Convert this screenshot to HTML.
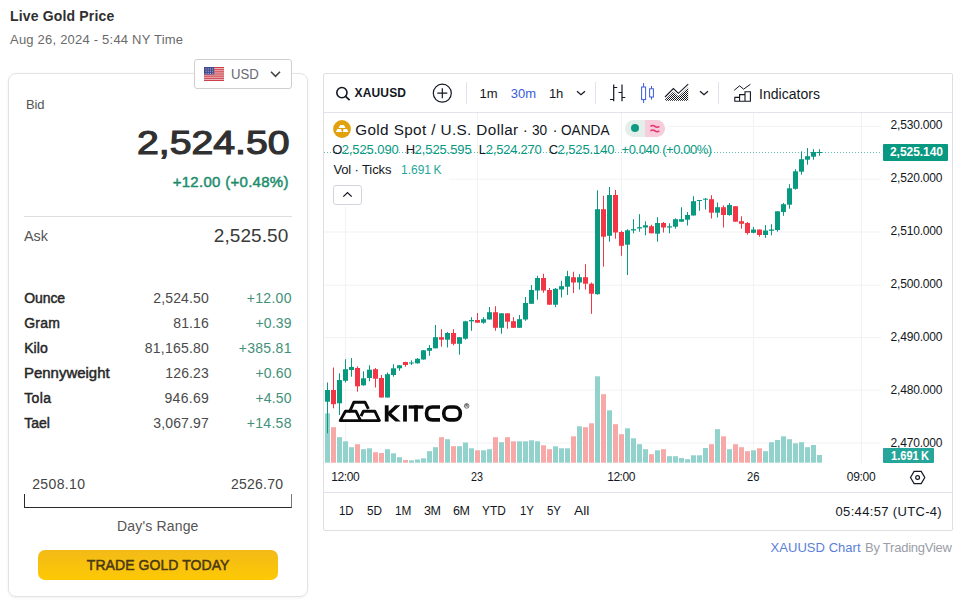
<!DOCTYPE html><html><head><meta charset="utf-8"><title>Live Gold Price</title><style>
html,body{margin:0;padding:0;background:#fff}
body{width:963px;height:600px;position:relative;overflow:hidden;font-family:"Liberation Sans",sans-serif}
.t{position:absolute;white-space:nowrap;line-height:1;margin:0;padding:0}
.b{position:absolute;box-sizing:border-box}
svg{position:absolute;left:0;top:0}

</style></head><body>
<div class="b" style="left:8px;top:73px;width:300px;height:524px;border:1px solid #e3e3e3;border-radius:8px;box-shadow:0 1px 3px rgba(0,0,0,.06)"></div>
<div class="b" style="left:323px;top:73px;width:630px;height:458px;border:1px solid #dedfe2;border-radius:2px"></div>
<div class="b" style="left:194px;top:59px;width:98px;height:30px;border:1px solid #cfcfcf;border-radius:3px;background:#fff"></div>
<div class="b" style="left:24px;top:216px;width:268px;height:1px;background:#dedede"></div>
<div class="b" style="left:24px;top:494px;width:268px;height:14px;border:1px solid #2a2a2a;border-top:none;border-right-color:#777"></div>
<div class="b" style="left:38px;top:550px;width:240px;height:30px;border-radius:7px;background:linear-gradient(#f3ba17,#fdc905)"></div>
<div class="b" style="left:324px;top:112px;width:628px;height:1px;background:#e0e3eb"></div>
<div class="b" style="left:324px;top:492px;width:628px;height:1px;background:#e0e3eb"></div>
<div class="b" style="left:466px;top:82px;width:1px;height:22px;background:#e0e3eb"></div>
<div class="b" style="left:595px;top:82px;width:1px;height:22px;background:#e0e3eb"></div>
<div class="b" style="left:718px;top:82px;width:1px;height:22px;background:#e0e3eb"></div>
<svg width="963" height="600" viewBox="0 0 963 600"><rect x="668" y="126.0" width="213" height="1" fill="#f1f2f5"/><rect x="324" y="178.7" width="557" height="1" fill="#f1f2f5"/><rect x="324" y="231.5" width="557" height="1" fill="#f1f2f5"/><rect x="324" y="284.7" width="557" height="1" fill="#f1f2f5"/><rect x="324" y="337.0" width="557" height="1" fill="#f1f2f5"/><rect x="324" y="389.7" width="557" height="1" fill="#f1f2f5"/><rect x="324" y="442.5" width="557" height="1" fill="#f1f2f5"/><rect x="345" y="206" width="1" height="257" fill="#f1f2f5"/><rect x="477" y="113" width="1" height="350" fill="#f1f2f5"/><rect x="621" y="113" width="1" height="350" fill="#f1f2f5"/><rect x="753" y="113" width="1" height="350" fill="#f1f2f5"/><rect x="861" y="113" width="1" height="350" fill="#f1f2f5"/><rect x="324" y="160" width="125" height="22" fill="#fff"/><rect x="325" y="413.3" width="5" height="49.4" fill="#92d2cc"/><rect x="331" y="427.2" width="5" height="35.5" fill="#f7a9a7"/><rect x="337" y="437.2" width="5" height="25.5" fill="#92d2cc"/><rect x="343" y="441.3" width="5" height="21.4" fill="#92d2cc"/><rect x="349" y="447.2" width="5" height="15.5" fill="#92d2cc"/><rect x="355" y="444.2" width="5" height="18.5" fill="#f7a9a7"/><rect x="361" y="449.2" width="5" height="13.5" fill="#92d2cc"/><rect x="367" y="448.3" width="5" height="14.4" fill="#92d2cc"/><rect x="373" y="452.2" width="5" height="10.5" fill="#f7a9a7"/><rect x="379" y="453.0" width="5" height="9.7" fill="#f7a9a7"/><rect x="385" y="449.2" width="5" height="13.5" fill="#92d2cc"/><rect x="391" y="453.3" width="5" height="9.4" fill="#92d2cc"/><rect x="397" y="457.2" width="5" height="5.5" fill="#92d2cc"/><rect x="403" y="460.0" width="5" height="2.7" fill="#f7a9a7"/><rect x="409" y="460.3" width="5" height="2.4" fill="#92d2cc"/><rect x="415" y="459.5" width="5" height="3.2" fill="#92d2cc"/><rect x="421" y="458.3" width="5" height="4.4" fill="#92d2cc"/><rect x="427" y="451.2" width="5" height="11.5" fill="#92d2cc"/><rect x="433" y="447.2" width="5" height="15.5" fill="#92d2cc"/><rect x="439" y="437.2" width="5" height="25.5" fill="#f7a9a7"/><rect x="445" y="439.2" width="5" height="23.5" fill="#92d2cc"/><rect x="451" y="446.2" width="5" height="16.5" fill="#f7a9a7"/><rect x="457" y="446.2" width="5" height="16.5" fill="#92d2cc"/><rect x="463" y="442.5" width="5" height="20.2" fill="#92d2cc"/><rect x="469" y="448.3" width="5" height="14.4" fill="#92d2cc"/><rect x="475" y="450.3" width="5" height="12.4" fill="#f7a9a7"/><rect x="481" y="450.3" width="5" height="12.4" fill="#92d2cc"/><rect x="487" y="449.2" width="5" height="13.5" fill="#92d2cc"/><rect x="493" y="437.2" width="5" height="25.5" fill="#f7a9a7"/><rect x="499" y="442.2" width="5" height="20.5" fill="#92d2cc"/><rect x="505" y="437.2" width="5" height="25.5" fill="#f7a9a7"/><rect x="511" y="441.3" width="5" height="21.4" fill="#f7a9a7"/><rect x="517" y="441.3" width="5" height="21.4" fill="#92d2cc"/><rect x="523" y="441.3" width="5" height="21.4" fill="#92d2cc"/><rect x="529" y="440.3" width="5" height="22.4" fill="#92d2cc"/><rect x="535" y="441.3" width="5" height="21.4" fill="#92d2cc"/><rect x="541" y="445.3" width="5" height="17.4" fill="#f7a9a7"/><rect x="547" y="449.2" width="5" height="13.5" fill="#f7a9a7"/><rect x="553" y="446.3" width="5" height="16.4" fill="#92d2cc"/><rect x="559" y="448.3" width="5" height="14.4" fill="#92d2cc"/><rect x="565" y="448.3" width="5" height="14.4" fill="#92d2cc"/><rect x="571" y="436.3" width="5" height="26.4" fill="#f7a9a7"/><rect x="577" y="426.3" width="5" height="36.4" fill="#92d2cc"/><rect x="583" y="427.2" width="5" height="35.5" fill="#f7a9a7"/><rect x="589" y="423.3" width="5" height="39.4" fill="#f7a9a7"/><rect x="595" y="376.3" width="5" height="86.4" fill="#92d2cc"/><rect x="601" y="394.2" width="5" height="68.5" fill="#f7a9a7"/><rect x="607" y="410.3" width="5" height="52.4" fill="#92d2cc"/><rect x="613" y="424.2" width="5" height="38.5" fill="#f7a9a7"/><rect x="619" y="434.2" width="5" height="28.5" fill="#f7a9a7"/><rect x="625" y="428.3" width="5" height="34.4" fill="#92d2cc"/><rect x="631" y="438.3" width="5" height="24.4" fill="#92d2cc"/><rect x="637" y="444.2" width="5" height="18.5" fill="#92d2cc"/><rect x="643" y="449.2" width="5" height="13.5" fill="#92d2cc"/><rect x="649" y="454.2" width="5" height="8.5" fill="#f7a9a7"/><rect x="655" y="450.3" width="5" height="12.4" fill="#92d2cc"/><rect x="661" y="449.2" width="5" height="13.5" fill="#f7a9a7"/><rect x="667" y="456.2" width="5" height="6.5" fill="#92d2cc"/><rect x="673" y="456.2" width="5" height="6.5" fill="#92d2cc"/><rect x="679" y="458.0" width="5" height="4.7" fill="#92d2cc"/><rect x="685" y="459.2" width="5" height="3.5" fill="#92d2cc"/><rect x="691" y="455.3" width="5" height="7.4" fill="#92d2cc"/><rect x="697" y="455.3" width="5" height="7.4" fill="#92d2cc"/><rect x="703" y="448.0" width="5" height="14.7" fill="#92d2cc"/><rect x="709" y="444.2" width="5" height="18.5" fill="#f7a9a7"/><rect x="715" y="429.2" width="5" height="33.5" fill="#92d2cc"/><rect x="721" y="436.3" width="5" height="26.4" fill="#f7a9a7"/><rect x="727" y="449.2" width="5" height="13.5" fill="#92d2cc"/><rect x="733" y="444.2" width="5" height="18.5" fill="#f7a9a7"/><rect x="739" y="447.2" width="5" height="15.5" fill="#f7a9a7"/><rect x="745" y="451.2" width="5" height="11.5" fill="#f7a9a7"/><rect x="751" y="450.3" width="5" height="12.4" fill="#92d2cc"/><rect x="757" y="448.3" width="5" height="14.4" fill="#f7a9a7"/><rect x="763" y="451.2" width="5" height="11.5" fill="#92d2cc"/><rect x="769" y="442.2" width="5" height="20.5" fill="#92d2cc"/><rect x="775" y="440.0" width="5" height="22.7" fill="#92d2cc"/><rect x="781" y="436.3" width="5" height="26.4" fill="#92d2cc"/><rect x="787" y="439.2" width="5" height="23.5" fill="#92d2cc"/><rect x="793" y="443.3" width="5" height="19.4" fill="#92d2cc"/><rect x="799" y="442.2" width="5" height="20.5" fill="#92d2cc"/><rect x="805" y="447.2" width="5" height="15.5" fill="#92d2cc"/><rect x="811" y="445.0" width="5" height="17.7" fill="#92d2cc"/><rect x="817" y="455.0" width="5" height="7.7" fill="#92d2cc"/><line x1="324" y1="152.5" x2="880" y2="152.5" stroke="#089981" stroke-width="1" stroke-dasharray="1 2" opacity=".62"/><rect x="327" y="382.5" width="1" height="50.8" fill="#089981"/><rect x="325" y="390.0" width="5" height="11.7" fill="#089981"/><rect x="333" y="367.5" width="1" height="40.8" fill="#f23645"/><rect x="331" y="390.0" width="5" height="14.2" fill="#f23645"/><rect x="339" y="373.3" width="1" height="41.7" fill="#089981"/><rect x="337" y="380.0" width="5" height="23.3" fill="#089981"/><rect x="345" y="359.2" width="1" height="23.3" fill="#089981"/><rect x="343" y="369.2" width="5" height="11.6" fill="#089981"/><rect x="351" y="358.0" width="1" height="18.7" fill="#089981"/><rect x="349" y="367.0" width="5" height="3.0" fill="#089981"/><rect x="357" y="366.3" width="1" height="25.4" fill="#f23645"/><rect x="355" y="368.0" width="5" height="18.3" fill="#f23645"/><rect x="363" y="371.3" width="1" height="14.5" fill="#089981"/><rect x="361" y="378.3" width="5" height="7.0" fill="#089981"/><rect x="369" y="365.3" width="1" height="16.0" fill="#089981"/><rect x="367" y="369.7" width="5" height="8.3" fill="#089981"/><rect x="375" y="368.0" width="1" height="19.5" fill="#f23645"/><rect x="373" y="369.2" width="5" height="9.5" fill="#f23645"/><rect x="381" y="375.0" width="1" height="22.5" fill="#f23645"/><rect x="379" y="378.0" width="5" height="19.5" fill="#f23645"/><rect x="387" y="372.5" width="1" height="25.0" fill="#089981"/><rect x="385" y="374.2" width="5" height="23.3" fill="#089981"/><rect x="393" y="364.2" width="1" height="12.5" fill="#089981"/><rect x="391" y="368.3" width="5" height="6.7" fill="#089981"/><rect x="399" y="365.0" width="1" height="5.8" fill="#089981"/><rect x="397" y="365.3" width="5" height="3.0" fill="#089981"/><rect x="405" y="361.7" width="1" height="5.0" fill="#f23645"/><rect x="403" y="362.0" width="5" height="3.0" fill="#f23645"/><rect x="411" y="360.3" width="1" height="4.7" fill="#089981"/><rect x="409" y="362.5" width="5" height="1.0" fill="#089981"/><rect x="417" y="358.0" width="1" height="5.7" fill="#089981"/><rect x="415" y="358.8" width="5" height="4.5" fill="#089981"/><rect x="423" y="350.0" width="1" height="9.7" fill="#089981"/><rect x="421" y="350.3" width="5" height="9.2" fill="#089981"/><rect x="429" y="345.0" width="1" height="10.8" fill="#089981"/><rect x="427" y="348.0" width="5" height="2.8" fill="#089981"/><rect x="435" y="325.0" width="1" height="23.3" fill="#089981"/><rect x="433" y="337.2" width="5" height="11.1" fill="#089981"/><rect x="441" y="329.2" width="1" height="17.5" fill="#f23645"/><rect x="439" y="337.2" width="5" height="2.5" fill="#f23645"/><rect x="447" y="332.0" width="1" height="15.5" fill="#089981"/><rect x="445" y="333.0" width="5" height="6.7" fill="#089981"/><rect x="453" y="329.2" width="1" height="16.1" fill="#f23645"/><rect x="451" y="333.0" width="5" height="10.8" fill="#f23645"/><rect x="459" y="337.2" width="1" height="17.5" fill="#089981"/><rect x="457" y="337.2" width="5" height="6.6" fill="#089981"/><rect x="465" y="320.8" width="1" height="18.9" fill="#089981"/><rect x="463" y="321.3" width="5" height="17.4" fill="#089981"/><rect x="471" y="317.2" width="1" height="13.6" fill="#089981"/><rect x="469" y="320.0" width="5" height="1.3" fill="#089981"/><rect x="477" y="313.0" width="1" height="9.7" fill="#f23645"/><rect x="475" y="320.0" width="5" height="2.7" fill="#f23645"/><rect x="483" y="317.2" width="1" height="6.5" fill="#089981"/><rect x="481" y="319.2" width="5" height="3.5" fill="#089981"/><rect x="489" y="307.0" width="1" height="12.5" fill="#089981"/><rect x="487" y="312.2" width="5" height="7.3" fill="#089981"/><rect x="495" y="306.2" width="1" height="24.6" fill="#f23645"/><rect x="493" y="312.2" width="5" height="15.6" fill="#f23645"/><rect x="501" y="313.3" width="1" height="20.4" fill="#089981"/><rect x="499" y="313.3" width="5" height="14.5" fill="#089981"/><rect x="507" y="313.3" width="1" height="15.4" fill="#f23645"/><rect x="505" y="313.3" width="5" height="8.4" fill="#f23645"/><rect x="513" y="317.2" width="1" height="10.6" fill="#f23645"/><rect x="511" y="321.2" width="5" height="6.6" fill="#f23645"/><rect x="519" y="315.0" width="1" height="12.8" fill="#089981"/><rect x="517" y="319.2" width="5" height="8.6" fill="#089981"/><rect x="525" y="297.0" width="1" height="23.8" fill="#089981"/><rect x="523" y="303.0" width="5" height="16.5" fill="#089981"/><rect x="531" y="285.0" width="1" height="18.8" fill="#089981"/><rect x="529" y="290.0" width="5" height="13.8" fill="#089981"/><rect x="537" y="275.8" width="1" height="23.9" fill="#089981"/><rect x="535" y="278.0" width="5" height="12.5" fill="#089981"/><rect x="543" y="273.7" width="1" height="19.1" fill="#f23645"/><rect x="541" y="278.0" width="5" height="12.5" fill="#f23645"/><rect x="549" y="288.0" width="1" height="16.7" fill="#f23645"/><rect x="547" y="290.0" width="5" height="14.7" fill="#f23645"/><rect x="555" y="288.0" width="1" height="19.0" fill="#089981"/><rect x="553" y="288.8" width="5" height="15.9" fill="#089981"/><rect x="561" y="280.8" width="1" height="16.7" fill="#089981"/><rect x="559" y="286.2" width="5" height="3.3" fill="#089981"/><rect x="567" y="270.8" width="1" height="24.2" fill="#089981"/><rect x="565" y="276.2" width="5" height="10.5" fill="#089981"/><rect x="573" y="271.7" width="1" height="21.3" fill="#f23645"/><rect x="571" y="277.2" width="5" height="5.3" fill="#f23645"/><rect x="579" y="274.2" width="1" height="15.3" fill="#089981"/><rect x="577" y="277.2" width="5" height="5.3" fill="#089981"/><rect x="585" y="264.2" width="1" height="25.3" fill="#f23645"/><rect x="583" y="277.2" width="5" height="6.5" fill="#f23645"/><rect x="591" y="282.5" width="1" height="31.3" fill="#f23645"/><rect x="589" y="283.7" width="5" height="10.0" fill="#f23645"/><rect x="597" y="190.3" width="1" height="104.4" fill="#089981"/><rect x="595" y="209.2" width="5" height="85.0" fill="#089981"/><rect x="603" y="195.8" width="1" height="70.9" fill="#f23645"/><rect x="601" y="209.2" width="5" height="27.5" fill="#f23645"/><rect x="609" y="187.0" width="1" height="54.7" fill="#089981"/><rect x="607" y="195.0" width="5" height="40.8" fill="#089981"/><rect x="615" y="190.0" width="1" height="48.7" fill="#f23645"/><rect x="613" y="195.0" width="5" height="37.5" fill="#f23645"/><rect x="621" y="230.8" width="1" height="25.0" fill="#f23645"/><rect x="619" y="232.0" width="5" height="13.8" fill="#f23645"/><rect x="627" y="229.2" width="1" height="45.8" fill="#089981"/><rect x="625" y="230.3" width="5" height="14.4" fill="#089981"/><rect x="633" y="219.2" width="1" height="14.1" fill="#089981"/><rect x="631" y="229.2" width="5" height="1.3" fill="#089981"/><rect x="639" y="214.2" width="1" height="17.5" fill="#089981"/><rect x="637" y="227.2" width="5" height="1.3" fill="#089981"/><rect x="645" y="221.3" width="1" height="14.0" fill="#089981"/><rect x="643" y="225.3" width="5" height="2.2" fill="#089981"/><rect x="651" y="224.7" width="1" height="8.6" fill="#f23645"/><rect x="649" y="226.2" width="5" height="7.1" fill="#f23645"/><rect x="657" y="217.2" width="1" height="24.5" fill="#089981"/><rect x="655" y="223.0" width="5" height="10.7" fill="#089981"/><rect x="663" y="222.0" width="1" height="10.5" fill="#f23645"/><rect x="661" y="223.0" width="5" height="4.5" fill="#f23645"/><rect x="669" y="223.3" width="1" height="10.0" fill="#089981"/><rect x="667" y="226.3" width="5" height="1.2" fill="#089981"/><rect x="675" y="218.3" width="1" height="10.4" fill="#089981"/><rect x="673" y="219.2" width="5" height="7.5" fill="#089981"/><rect x="681" y="207.2" width="1" height="14.5" fill="#089981"/><rect x="679" y="219.2" width="5" height="2.5" fill="#089981"/><rect x="687" y="212.0" width="1" height="13.5" fill="#089981"/><rect x="685" y="215.0" width="5" height="4.7" fill="#089981"/><rect x="693" y="196.2" width="1" height="19.3" fill="#089981"/><rect x="691" y="201.2" width="5" height="14.3" fill="#089981"/><rect x="699" y="200.0" width="1" height="10.8" fill="#089981"/><rect x="697" y="200.0" width="5" height="1.0" fill="#089981"/><rect x="705" y="198.0" width="1" height="11.5" fill="#089981"/><rect x="703" y="198.7" width="5" height="1.0" fill="#089981"/><rect x="711" y="195.2" width="1" height="23.3" fill="#f23645"/><rect x="709" y="199.2" width="5" height="13.5" fill="#f23645"/><rect x="717" y="202.5" width="1" height="15.0" fill="#089981"/><rect x="715" y="207.2" width="5" height="5.5" fill="#089981"/><rect x="723" y="205.3" width="1" height="22.2" fill="#f23645"/><rect x="721" y="207.2" width="5" height="7.8" fill="#f23645"/><rect x="729" y="203.0" width="1" height="12.8" fill="#089981"/><rect x="727" y="205.0" width="5" height="10.0" fill="#089981"/><rect x="735" y="206.2" width="1" height="15.5" fill="#f23645"/><rect x="733" y="206.2" width="5" height="15.5" fill="#f23645"/><rect x="741" y="216.3" width="1" height="12.4" fill="#f23645"/><rect x="739" y="221.2" width="5" height="2.6" fill="#f23645"/><rect x="747" y="222.0" width="1" height="12.7" fill="#f23645"/><rect x="745" y="223.0" width="5" height="10.0" fill="#f23645"/><rect x="753" y="227.0" width="1" height="6.3" fill="#089981"/><rect x="751" y="229.5" width="5" height="3.3" fill="#089981"/><rect x="759" y="229.5" width="1" height="7.2" fill="#f23645"/><rect x="757" y="229.5" width="5" height="5.5" fill="#f23645"/><rect x="765" y="225.0" width="1" height="12.8" fill="#089981"/><rect x="763" y="230.5" width="5" height="4.5" fill="#089981"/><rect x="771" y="224.2" width="1" height="11.1" fill="#089981"/><rect x="769" y="229.5" width="5" height="1.3" fill="#089981"/><rect x="777" y="211.3" width="1" height="20.4" fill="#089981"/><rect x="775" y="211.3" width="5" height="18.7" fill="#089981"/><rect x="783" y="203.0" width="1" height="12.8" fill="#089981"/><rect x="781" y="204.2" width="5" height="7.8" fill="#089981"/><rect x="789" y="184.2" width="1" height="24.5" fill="#089981"/><rect x="787" y="188.3" width="5" height="16.4" fill="#089981"/><rect x="795" y="169.2" width="1" height="20.5" fill="#089981"/><rect x="793" y="171.3" width="5" height="17.5" fill="#089981"/><rect x="801" y="151.3" width="1" height="23.4" fill="#089981"/><rect x="799" y="159.2" width="5" height="12.5" fill="#089981"/><rect x="807" y="148.0" width="1" height="16.7" fill="#089981"/><rect x="805" y="156.2" width="5" height="3.5" fill="#089981"/><rect x="813" y="149.2" width="1" height="10.5" fill="#089981"/><rect x="811" y="152.0" width="5" height="4.7" fill="#089981"/><rect x="819" y="149.2" width="1" height="6.6" fill="#089981"/><rect x="817" y="152.0" width="5" height="1.0" fill="#089981"/></svg>
<div class="b" style="left:625px;top:120px;width:40px;height:17px;border-radius:9px;overflow:hidden;background:#e4efec"><div class="b" style="left:20px;top:0;width:20px;height:17px;background:#f8cddb"></div></div>
<div class="b" style="left:631px;top:124px;width:8px;height:8px;border-radius:4px;background:#0e9b83"></div>
<div class="b" style="left:333px;top:184.5px;width:28.5px;height:20px;border:1px solid #d1d4dc;border-radius:3px;background:#fff"></div>
<div class="b" style="left:883px;top:144px;width:65px;height:17px;background:#089981;border-radius:1px;z-index:2"></div>
<div class="b" style="left:883px;top:447.5px;width:51px;height:15.5px;background:#26a69a;border-radius:1px;z-index:2"></div>
<svg width="963" height="600" viewBox="0 0 963 600" fill="none"><g><rect x="204" y="67" width="20" height="14" fill="#f3e4e6"/><rect x="204" y="67.00" width="20" height="1.3" fill="#cf3f4a"/><rect x="204" y="69.12" width="20" height="1.3" fill="#cf3f4a"/><rect x="204" y="71.23" width="20" height="1.3" fill="#cf3f4a"/><rect x="204" y="73.35" width="20" height="1.3" fill="#cf3f4a"/><rect x="204" y="75.47" width="20" height="1.3" fill="#cf3f4a"/><rect x="204" y="77.59" width="20" height="1.3" fill="#cf3f4a"/><rect x="204" y="79.70" width="20" height="1.3" fill="#cf3f4a"/><rect x="204" y="67" width="10.2" height="7.5" fill="#444a8e"/><rect x="205.6" y="68.5" width="1" height="1" fill="#b9bcd9"/><rect x="207.8" y="68.5" width="1" height="1" fill="#b9bcd9"/><rect x="210.0" y="68.5" width="1" height="1" fill="#b9bcd9"/><rect x="212.2" y="68.5" width="1" height="1" fill="#b9bcd9"/><rect x="205.6" y="70.7" width="1" height="1" fill="#b9bcd9"/><rect x="207.8" y="70.7" width="1" height="1" fill="#b9bcd9"/><rect x="210.0" y="70.7" width="1" height="1" fill="#b9bcd9"/><rect x="212.2" y="70.7" width="1" height="1" fill="#b9bcd9"/><rect x="205.6" y="72.9" width="1" height="1" fill="#b9bcd9"/><rect x="207.8" y="72.9" width="1" height="1" fill="#b9bcd9"/><rect x="210.0" y="72.9" width="1" height="1" fill="#b9bcd9"/><rect x="212.2" y="72.9" width="1" height="1" fill="#b9bcd9"/></g><path d="M271 71.8l4.5 4.5 4.5-4.5" stroke="#444" stroke-width="1.6"/><circle cx="341.9" cy="92.6" r="5.1" stroke="#131722" stroke-width="1.6"/><path d="M345.6 96.4l4 3.8" stroke="#131722" stroke-width="1.7"/><circle cx="442.3" cy="93.2" r="9" stroke="#131722" stroke-width="1.2"/><path d="M437.3 93.2h10M442.3 88.2v10" stroke="#131722" stroke-width="1.2"/><path d="M577 91.2l4 3.6 4-3.6" stroke="#131722" stroke-width="1.2"/><path d="M613.7 84.5v16.7M610 99.5h3.7M613.7 87.5h3.5M622 84.5v16.7M618.5 92.5h3.5M622 97.5h3.3" stroke="#131722" stroke-width="1.2"/><path d="M643.6 83v4M643.6 99.6v3.4M651.5 86v2.8M651.5 97v2.6" stroke="#3a5bd9" stroke-width="1"/><rect x="641.6" y="87" width="4" height="12.6" stroke="#3a5bd9" stroke-width="1"/><rect x="649.6" y="88.8" width="3.8" height="8.2" stroke="#3a5bd9" stroke-width="1"/><defs><pattern id="hp" width="2" height="2" patternUnits="userSpaceOnUse"><rect width="1" height="1" fill="#131722"/><rect x="1" y="1" width="1" height="1" fill="#131722"/></pattern></defs><path d="M665 100.8v-1.2L673.4 91.4l5 4.8L688.2 87.2v13.6z" fill="url(#hp)"/><path d="M665 97L673.4 88.5l5 4.8L688.2 84.2" stroke="#131722" stroke-width="1.1"/><path d="M700 91.2l4 3.6 4-3.6" stroke="#131722" stroke-width="1.2"/><path d="M734.2 90.3l5.4-4.5 4 3.4 6.8-4.9" stroke="#131722" stroke-width="1"/><path d="M734.8 101.3v-3.9h4.8v3.9M739.6 97.4v-2.8h5.4v6.7M745 94.6v-2.9h5.4v9.6M734.3 101.3h16.6" stroke="#131722" stroke-width="1.1"/><circle cx="342" cy="129" r="8.9" fill="#e0a10d"/><path d="M340.2 124.9H344L345.5 127.9H338.6zM337.3 129H341L342 132.1H335.8zM343.5 129H347L348.4 132.1H342.8z" fill="#fff"/><path d="M650.5 126.3q2.2-1.8 4.4 0t4.4 0M650.5 130.8q2.2-1.8 4.4 0t4.4 0" stroke="#e8326d" stroke-width="1.5"/><path d="M343.3 196.6l4.2-4 4.2 4" stroke="#131722" stroke-width="1.3"/><path d="M914.1 471.4h7.1l3.6 6.1-3.6 6.1h-7.1l-3.6-6.1z" stroke="#131722" stroke-width="1.2"/><circle cx="917.6" cy="477.5" r="1.9" stroke="#131722" stroke-width="1.2"/><g stroke="#0a0a0a" stroke-width="2.9" stroke-linejoin="round" stroke-linecap="butt" fill="none"><path d="M349.9 411.2H345.4L340.2 420.6H379.4L374.8 411.2H363.4L361 416.2"/><path d="M349 411.2H355.9L360.6 420.6"/><path d="M349.6 411.9L353.9 402.2H365L368.4 408.9"/></g><g fill="#0a0a0a"><rect x="384.8" y="405.3" width="3.8" height="16.3"/><path d="M388 411.9L395.2 405.3H400.4L391.4 413.4L400.7 421.6H395.4L388 415.1z"/><rect x="403.1" y="405.3" width="3.8" height="16.3"/><rect x="408.6" y="405.3" width="14.8" height="3.4"/><rect x="414.1" y="405.3" width="3.8" height="16.3"/></g><g stroke="#0a0a0a" stroke-width="3.6" fill="none"><path d="M440 407H432.6Q426.6 407 426.6 412.6V414.3Q426.6 419.9 432.6 419.9H440"/><rect x="443.8" y="407" width="16.5" height="12.9" rx="5.8" ry="5.8"/></g><circle cx="466.7" cy="405.9" r="2.3" stroke="#333" stroke-width=".7" fill="none"/><text x="465.3" y="407.2" font-family="Liberation Sans, sans-serif" font-size="3.8" font-weight="700" fill="#333">R</text></svg>
<span class="t" id="t0" style="left:10.00px;top:8.95px;font-size:14px;color:#2f2f2f;font-weight:700;letter-spacing:0.162px;">Live Gold Price</span>
<span class="t" id="t1" style="left:10.00px;top:33.00px;font-size:13px;color:#6a6a6a;letter-spacing:0.215px;">Aug 26, 2024 - 5:44 NY Time</span>
<span class="t" id="t2" style="left:231.20px;top:66.85px;font-size:14px;color:#666a74;transform:scaleX(0.9404);transform-origin:0 0;">USD</span>
<span class="t" id="t3" style="left:26.00px;top:97.80px;font-size:13px;color:#555;letter-spacing:-0.148px;">Bid</span>
<span class="t" id="t4" style="left:137.00px;top:125.42px;font-size:34px;color:#303030;transform:scaleX(1.1529);transform-origin:0 0;-webkit-text-stroke:1.2px #303030;">2,524.50</span>
<span class="t" id="t5" style="left:172.70px;top:173.55px;font-size:15px;color:#1e8e6e;letter-spacing:0.289px;-webkit-text-stroke:0.5px #1e8e6e;">+12.00 (+0.48%)</span>
<span class="t" id="t6" style="left:24.00px;top:228.30px;font-size:15px;color:#555;transform:scaleX(0.9594);transform-origin:0 0;">Ask</span>
<span class="t" id="t7" style="left:213.75px;top:226.12px;font-size:19px;color:#3a3a3a;letter-spacing:0.076px;">2,525.50</span>
<span class="t" id="t8" style="left:24.20px;top:291.35px;font-size:14px;color:#262626;letter-spacing:-0.088px;-webkit-text-stroke:0.45px #262626;">Ounce</span>
<span class="t" id="t9" style="left:153.30px;top:291.35px;font-size:14px;color:#4a4a4a;letter-spacing:0.143px;">2,524.50</span>
<span class="t" id="t10" style="left:246.70px;top:291.35px;font-size:14px;color:#43907a;letter-spacing:0.316px;">+12.00</span>
<span class="t" id="t11" style="left:24.20px;top:316.25px;font-size:14px;color:#262626;letter-spacing:0.200px;-webkit-text-stroke:0.45px #262626;">Gram</span>
<span class="t" id="t12" style="left:173.30px;top:316.25px;font-size:14px;color:#4a4a4a;letter-spacing:0.113px;">81.16</span>
<span class="t" id="t13" style="left:255.50px;top:316.25px;font-size:14px;color:#43907a;letter-spacing:0.141px;">+0.39</span>
<span class="t" id="t14" style="left:24.20px;top:341.15px;font-size:14px;color:#262626;letter-spacing:0.080px;-webkit-text-stroke:0.45px #262626;">Kilo</span>
<span class="t" id="t15" style="left:144.80px;top:341.15px;font-size:14px;color:#4a4a4a;letter-spacing:0.213px;">81,165.80</span>
<span class="t" id="t16" style="left:238.70px;top:341.15px;font-size:14px;color:#43907a;letter-spacing:0.300px;">+385.81</span>
<span class="t" id="t17" style="left:24.20px;top:366.05px;font-size:14px;color:#262626;transform:scaleX(1.0677);transform-origin:0 0;-webkit-text-stroke:0.45px #262626;">Pennyweight</span>
<span class="t" id="t18" style="left:165.30px;top:366.05px;font-size:14px;color:#4a4a4a;letter-spacing:0.134px;">126.23</span>
<span class="t" id="t19" style="left:255.50px;top:366.05px;font-size:14px;color:#43907a;letter-spacing:0.141px;">+0.60</span>
<span class="t" id="t20" style="left:24.20px;top:390.95px;font-size:14px;color:#262626;letter-spacing:0.371px;-webkit-text-stroke:0.45px #262626;">Tola</span>
<span class="t" id="t21" style="left:164.50px;top:390.95px;font-size:14px;color:#4a4a4a;letter-spacing:0.294px;">946.69</span>
<span class="t" id="t22" style="left:255.50px;top:390.95px;font-size:14px;color:#43907a;letter-spacing:0.141px;">+4.50</span>
<span class="t" id="t23" style="left:24.20px;top:415.75px;font-size:14px;color:#262626;letter-spacing:-0.029px;-webkit-text-stroke:0.45px #262626;">Tael</span>
<span class="t" id="t24" style="left:153.30px;top:415.75px;font-size:14px;color:#4a4a4a;letter-spacing:0.143px;">3,067.97</span>
<span class="t" id="t25" style="left:246.70px;top:415.75px;font-size:14px;color:#43907a;letter-spacing:0.316px;">+14.58</span>
<span class="t" id="t26" style="left:32.20px;top:477.35px;font-size:14px;color:#444;letter-spacing:0.365px;">2508.10</span>
<span class="t" id="t27" style="left:231.00px;top:477.35px;font-size:14px;color:#444;letter-spacing:0.232px;">2526.70</span>
<span class="t" id="t28" style="left:117.00px;top:518.65px;font-size:14px;color:#555;letter-spacing:0.168px;">Day's Range</span>
<span class="t" id="t29" style="left:86.80px;top:557.85px;font-size:14px;color:#4a3812;letter-spacing:0.067px;-webkit-text-stroke:0.5px #4a3812;">TRADE GOLD TODAY</span>
<span class="t" id="t30" style="left:354.60px;top:87.44px;font-size:12px;color:#131722;font-weight:700;letter-spacing:0.146px;">XAUUSD</span>
<span class="t" id="t31" style="left:479.60px;top:87.00px;font-size:13px;color:#131722;letter-spacing:-0.062px;">1m</span>
<span class="t" id="t32" style="left:510.80px;top:87.00px;font-size:13px;color:#3a5bd9;letter-spacing:-0.048px;">30m</span>
<span class="t" id="t33" style="left:549.00px;top:87.00px;font-size:13px;color:#131722;letter-spacing:-0.269px;">1h</span>
<span class="t" id="t34" style="left:759.00px;top:86.65px;font-size:14px;color:#131722;letter-spacing:0.033px;">Indicators</span>
<span class="t" id="t35" style="left:355.20px;top:122.25px;font-size:15.3px;color:#131722;letter-spacing:0.376px;">Gold Spot / U.S. Dollar</span>
<span class="t" id="t36" style="left:522.80px;top:122.25px;font-size:15.3px;color:#131722;">·</span>
<span class="t" id="t37" style="left:532.40px;top:122.25px;font-size:15.3px;color:#131722;transform:scaleX(0.8933);transform-origin:0 0;">30</span>
<span class="t" id="t38" style="left:552.50px;top:122.25px;font-size:15.3px;color:#131722;">·</span>
<span class="t" id="t39" style="left:560.80px;top:122.25px;font-size:15.3px;color:#131722;transform:scaleX(0.8914);transform-origin:0 0;">OANDA</span>
<span class="t" id="t40" style="left:332.30px;top:142.60px;font-size:13px;color:#131722;">O</span>
<span class="t" id="t41" style="left:341.70px;top:142.60px;font-size:13px;color:#089981;letter-spacing:-0.093px;">2,525.090</span>
<span class="t" id="t42" style="left:405.70px;top:142.60px;font-size:13px;color:#131722;">H</span>
<span class="t" id="t43" style="left:414.60px;top:142.60px;font-size:13px;color:#089981;letter-spacing:-0.093px;">2,525.595</span>
<span class="t" id="t44" style="left:478.80px;top:142.60px;font-size:13px;color:#131722;">L</span>
<span class="t" id="t45" style="left:485.80px;top:142.60px;font-size:13px;color:#089981;letter-spacing:-0.230px;">2,524.270</span>
<span class="t" id="t46" style="left:548.70px;top:142.60px;font-size:13px;color:#131722;">C</span>
<span class="t" id="t47" style="left:557.60px;top:142.60px;font-size:13px;color:#089981;letter-spacing:-0.118px;">2,525.140</span>
<span class="t" id="t48" style="left:621.60px;top:142.60px;font-size:13px;color:#089981;letter-spacing:-0.447px;">+0.040 (+0.00%)</span>
<span class="t" id="t49" style="left:333.40px;top:163.30px;font-size:13px;color:#131722;letter-spacing:-0.125px;">Vol · Ticks</span>
<span class="t" id="t50" style="left:401.00px;top:163.30px;font-size:13px;color:#26a69a;transform:scaleX(0.9221);transform-origin:0 0;">1.691 K</span>
<span class="t" id="t51" style="left:890.50px;top:118.64px;font-size:12px;color:#131722;letter-spacing:-0.174px;">2,530.000</span>
<span class="t" id="t52" style="left:890.50px;top:171.64px;font-size:12px;color:#131722;letter-spacing:-0.174px;">2,520.000</span>
<span class="t" id="t53" style="left:890.50px;top:224.64px;font-size:12px;color:#131722;letter-spacing:-0.174px;">2,510.000</span>
<span class="t" id="t54" style="left:890.50px;top:277.64px;font-size:12px;color:#131722;letter-spacing:-0.174px;">2,500.000</span>
<span class="t" id="t55" style="left:890.50px;top:330.64px;font-size:12px;color:#131722;letter-spacing:-0.174px;">2,490.000</span>
<span class="t" id="t56" style="left:890.50px;top:383.64px;font-size:12px;color:#131722;letter-spacing:-0.174px;">2,480.000</span>
<span class="t" id="t57" style="left:890.50px;top:436.74px;font-size:12px;color:#131722;letter-spacing:-0.174px;">2,470.000</span>
<span class="t" id="t58" style="left:331.35px;top:470.64px;font-size:12px;color:#131722;letter-spacing:-0.433px;">12:00</span>
<span class="t" id="t59" style="left:471.20px;top:470.64px;font-size:12px;color:#131722;transform:scaleX(0.8982);transform-origin:0 0;">23</span>
<span class="t" id="t60" style="left:607.15px;top:470.64px;font-size:12px;color:#131722;letter-spacing:-0.433px;">12:00</span>
<span class="t" id="t61" style="left:746.85px;top:470.64px;font-size:12px;color:#131722;transform:scaleX(0.9357);transform-origin:0 0;">26</span>
<span class="t" id="t62" style="left:846.80px;top:470.64px;font-size:12px;color:#131722;letter-spacing:-0.308px;">09:00</span>
<span class="t" id="t63" style="left:339.00px;top:505.02px;font-size:12.5px;color:#131722;transform:scaleX(0.9134);transform-origin:0 0;">1D</span>
<span class="t" id="t64" style="left:367.00px;top:505.02px;font-size:12.5px;color:#131722;transform:scaleX(0.9384);transform-origin:0 0;">5D</span>
<span class="t" id="t65" style="left:395.30px;top:505.02px;font-size:12.5px;color:#131722;transform:scaleX(0.9439);transform-origin:0 0;">1M</span>
<span class="t" id="t66" style="left:424.00px;top:505.02px;font-size:12.5px;color:#131722;letter-spacing:-0.375px;">3M</span>
<span class="t" id="t67" style="left:453.00px;top:505.02px;font-size:12.5px;color:#131722;letter-spacing:-0.375px;">6M</span>
<span class="t" id="t68" style="left:482.30px;top:505.02px;font-size:12.5px;color:#131722;transform:scaleX(0.9480);transform-origin:0 0;">YTD</span>
<span class="t" id="t69" style="left:519.60px;top:505.02px;font-size:12.5px;color:#131722;transform:scaleX(0.9087);transform-origin:0 0;">1Y</span>
<span class="t" id="t70" style="left:547.00px;top:505.02px;font-size:12.5px;color:#131722;transform:scaleX(0.9152);transform-origin:0 0;">5Y</span>
<span class="t" id="t71" style="left:573.60px;top:505.02px;font-size:12.5px;color:#131722;transform:scaleX(1.1074);transform-origin:0 0;">All</span>
<span class="t" id="t72" style="left:835.50px;top:505.00px;font-size:13px;color:#131722;letter-spacing:0.336px;">05:44:57 (UTC-4)</span>
<span class="t" id="t73" style="left:770.60px;top:540.50px;font-size:13px;color:#5b7fd8;letter-spacing:0.038px;">XAUUSD Chart</span>
<span class="t" id="t74" style="left:865.00px;top:540.50px;font-size:13px;color:#9a9ea8;letter-spacing:-0.238px;">By TradingView</span>
<span class="t" id="t75" style="left:890.00px;top:146.44px;font-size:12px;color:#fff;font-weight:700;z-index:3;letter-spacing:-0.049px;">2,525.140</span>
<span class="t" id="t76" style="left:890.50px;top:449.64px;font-size:12px;color:#fff;font-weight:700;z-index:3;transform:scaleX(0.9244);transform-origin:0 0;">1.691 K</span>
</body></html>
